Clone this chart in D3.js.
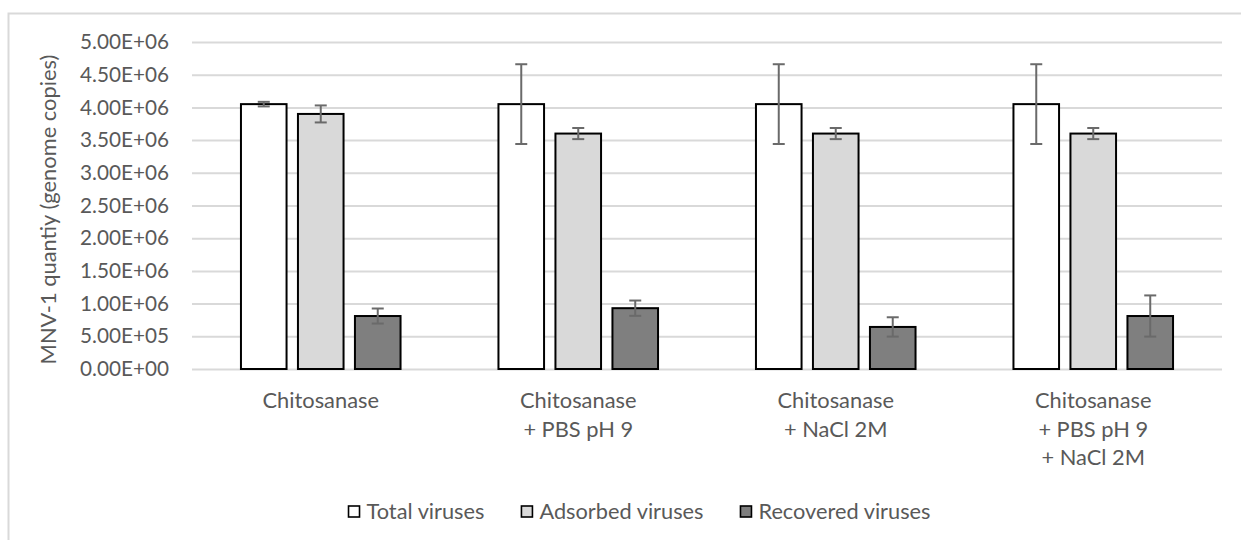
<!DOCTYPE html>
<html>
<head>
<meta charset="utf-8">
<script src="https://cdn.jsdelivr.net/npm/d3@7"></script>
<style>
  html, body { margin: 0; padding: 0; background: #fff; }
  svg { display: block; }
</style>
</head>
<body>
<svg id="chart" width="1241" height="540"></svg>
<script>
// ---- data ----
const categories = [
  ["Chitosanase"],
  ["Chitosanase", "+ PBS pH 9"],
  ["Chitosanase", "+ NaCl 2M"],
  ["Chitosanase", "+ PBS pH 9", "+ NaCl 2M"]
];
const seriesNames = ["Total viruses", "Adsorbed viruses", "Recovered viruses"];
const totalValues     = [4.05e6, 4.05e6, 4.05e6, 4.05e6];
const totalErrors     = [0.035e6, 0.61e6, 0.61e6, 0.61e6];
const adsorbedValues  = [3.90e6, 3.60e6, 3.60e6, 3.60e6];
const adsorbedErrors  = [0.13e6, 0.085e6, 0.085e6, 0.085e6];
const recoveredValues = [0.81e6, 0.93e6, 0.643e6, 0.81e6];
const recoveredErrors = [0.115e6, 0.117e6, 0.148e6, 0.315e6];
const yTicks = [0, 0.5e6, 1e6, 1.5e6, 2e6, 2.5e6, 3e6, 3.5e6, 4e6, 4.5e6, 5e6];
const yTitle = "MNV-1 quantiy (genome copies)";

const seriesColors = ["#ffffff", "#d9d9d9", "#7f7f7f"];
const seriesValues = [totalValues, adsorbedValues, recoveredValues];
const seriesErrors = [totalErrors, adsorbedErrors, recoveredErrors];

// ---- layout ----
const FONT = "Lato, 'Open Sans', sans-serif";
const TXT = "#595959";
const svg = d3.select("#chart");
const plot = { left: 192, right: 1222, top: 42, bottom: 369 };

function fitSize(str, target) {
  const t = svg.append("text").attr("font-family", FONT).attr("font-size", 100).text(str);
  const w = t.node().getComputedTextLength();
  t.remove();
  return 100 * target / w;
}
const tickFS = fitSize("5.00E+06", 89);
const catFS = fitSize("Chitosanase", 116.5);
const legFS = fitSize("Total viruses", 118);
const titleFS = fitSize(yTitle, 310);

// frame (left & top borders visible)
svg.append("rect")
  .attr("x", 8.5).attr("y", 13.5).attr("width", 1300).attr("height", 600)
  .attr("fill", "none").attr("stroke", "#d9d9d9").attr("stroke-width", 2);

const y = d3.scaleLinear().domain([0, 5e6]).range([plot.bottom, plot.top]);
const x0 = d3.scaleBand().domain(d3.range(categories.length)).range([plot.left, plot.right]).paddingInner(0).paddingOuter(0);
const x1 = d3.scaleBand().domain(d3.range(seriesNames.length)).range([0, x0.bandwidth()]).paddingInner(0.2).paddingOuter(0.859);

function fmt(v) {
  const s = v.toExponential(2).toUpperCase();
  return s.replace(/E([+-])(\d)$/, "E$10$2");
}

// gridlines
const grid = svg.append("g").attr("transform", `translate(${plot.left},0)`)
  .call(d3.axisLeft(y).tickValues(yTicks).tickSize(-(plot.right - plot.left)).tickFormat(""));
grid.select(".domain").remove();
grid.selectAll("line").attr("stroke", "#d9d9d9").attr("stroke-width", 2);

// tick labels
const yAxis = svg.append("g").attr("transform", `translate(${plot.left},0)`)
  .call(d3.axisLeft(y).tickValues(yTicks).tickSize(0).tickPadding(23).tickFormat(fmt));
yAxis.select(".domain").remove();
yAxis.selectAll("text").attr("font-family", FONT).attr("font-size", tickFS).attr("fill", TXT);

// bars
const groups = svg.append("g").selectAll("g").data(categories).join("g")
  .attr("transform", (d, i) => `translate(${x0(i)},0)`);

seriesNames.forEach((name, s) => {
  groups.append("rect")
    .attr("x", x1(s))
    .attr("y", (d, i) => y(seriesValues[s][i]))
    .attr("width", x1.bandwidth())
    .attr("height", (d, i) => y(0) - y(seriesValues[s][i]))
    .attr("fill", seriesColors[s])
    .attr("stroke", "#000").attr("stroke-width", 2);
});

// error bars
seriesNames.forEach((name, s) => {
  const cx = x1(s) + x1.bandwidth() / 2;
  const eb = groups.append("g").attr("stroke", "#6a6a6a").attr("stroke-width", 2);
  eb.append("line").attr("x1", cx).attr("x2", cx)
    .attr("y1", (d, i) => y(seriesValues[s][i] + seriesErrors[s][i]))
    .attr("y2", (d, i) => y(seriesValues[s][i] - seriesErrors[s][i]));
  eb.append("line").attr("x1", cx - 6).attr("x2", cx + 6)
    .attr("y1", (d, i) => y(seriesValues[s][i] + seriesErrors[s][i]))
    .attr("y2", (d, i) => y(seriesValues[s][i] + seriesErrors[s][i]));
  eb.append("line").attr("x1", cx - 6).attr("x2", cx + 6)
    .attr("y1", (d, i) => y(seriesValues[s][i] - seriesErrors[s][i]))
    .attr("y2", (d, i) => y(seriesValues[s][i] - seriesErrors[s][i]));
});

// category labels
const lineYs = [400, 429, 457];
groups.each(function(lines) {
  const g = d3.select(this);
  lines.forEach((ln, k) => {
    g.append("text")
      .attr("x", x0.bandwidth() / 2).attr("y", lineYs[k]).attr("dy", "0.35em")
      .attr("text-anchor", "middle")
      .attr("font-family", FONT).attr("font-size", catFS).attr("fill", TXT)
      .text(ln);
  });
});

// y title
svg.append("text")
  .attr("transform", `translate(48,${(plot.top + plot.bottom) / 2 + 4}) rotate(-90)`)
  .attr("dy", "0.35em").attr("text-anchor", "middle")
  .attr("font-family", FONT).attr("font-size", titleFS).attr("fill", TXT)
  .text(yTitle);

// legend
const legend = svg.append("g");
let lx = 0;
seriesNames.forEach((name, s) => {
  const it = legend.append("g").attr("transform", `translate(${lx},0)`);
  it.append("rect").attr("x", 1).attr("y", -5).attr("width", 11).attr("height", 11)
    .attr("fill", seriesColors[s]).attr("stroke", "#000").attr("stroke-width", 1.6);
  const t = it.append("text").attr("x", 19).attr("y", 0).attr("dy", "0.35em")
    .attr("font-family", FONT).attr("font-size", legFS).attr("fill", TXT).text(name);
  lx += 19 + t.node().getComputedTextLength() + 36;
});
const legW = lx - 36;
legend.attr("transform", `translate(${639 - legW / 2},${511})`);
</script>
</body>
</html>
